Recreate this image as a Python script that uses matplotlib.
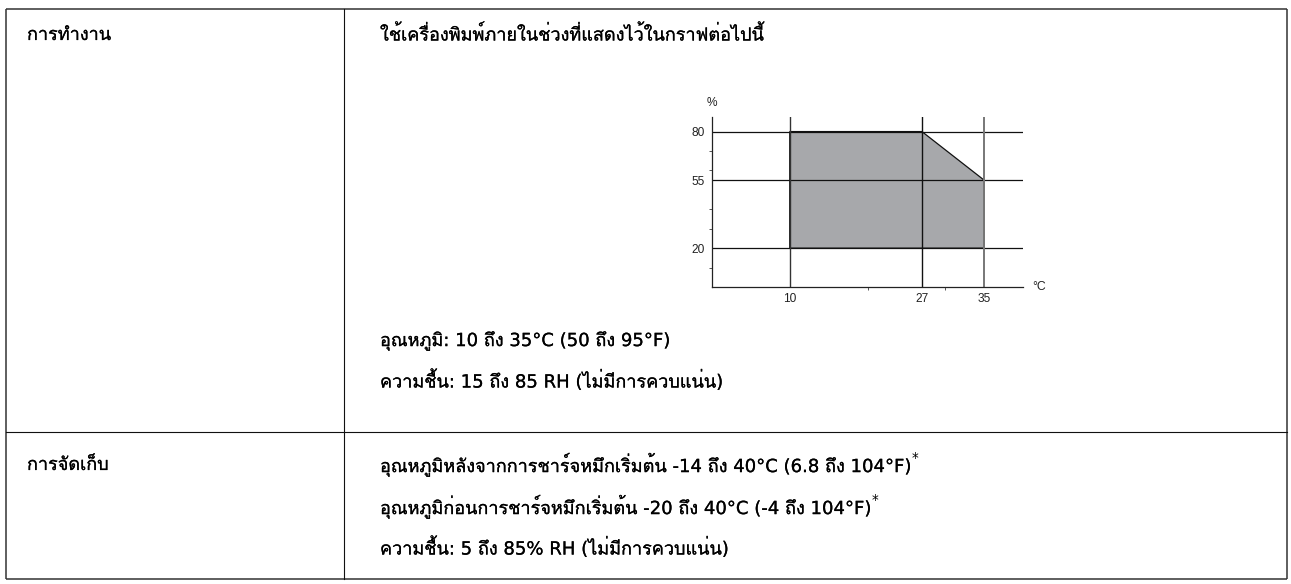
import matplotlib
matplotlib.use('Agg')
import matplotlib.pyplot as plt
import matplotlib.patheffects as pe
from matplotlib import font_manager
from matplotlib.ft2font import FT2Font
from matplotlib.patches import Polygon

# chart data
temp_labels = [10, 27, 35]
hum_labels = [20, 55, 80]
temp_minor = [20, 30]
hum_minor = [10, 30, 40, 60, 70]
zone_temp = [10, 10, 27, 35, 35]
zone_hum = [20, 80, 80, 55, 20]

# table text
row_names = ['การทำงาน', 'การจัดเก็บ']
op_lines = ['ใช้เครื่องพิมพ์ภายในช่วงที่แสดงไว้ในกราฟต่อไปนี้',
            'อุณหภูมิ: 10 ถึง 35°C (50 ถึง 95°F)',
            'ความชื้น: 15 ถึง 85 RH (ไม่มีการควบแน่น)']
store_lines = ['อุณหภูมิหลังจากการชาร์จหมึกเริ่มต้น -14 ถึง 40°C (6.8 ถึง 104°F)',
               'อุณหภูมิก่อนการชาร์จหมึกเริ่มต้น -20 ถึง 40°C (-4 ถึง 104°F)',
               'ความชื้น: 5 ถึง 85% RH (ไม่มีการควบแน่น)']
store_star = [True, True, False]


def find_thai_font():
    # pick an installed font that has Thai glyphs, Tahoma-like ones first
    found = []
    for f in font_manager.fontManager.ttflist:
        try:
            if 0x0E01 in FT2Font(f.fname).get_charmap():
                found.append(f.name)
        except Exception:
            pass
    for name in ['Tahoma', 'Waree', 'Loma', 'Garuda', 'Umpush',
                 'Noto Sans Thai Looped', 'Noto Sans Thai', 'Noto Sans Thai UI']:
        if name in found:
            return name
    found.sort(key=lambda n: ('Thai' not in n, 'Sans' not in n, 'Serif' in n))
    return found[0] if found else None


thai = find_thai_font()
families = ['DejaVu Sans'] + ([thai] if thai else [])
plt.rcParams['font.family'] = families

names = {f.name for f in font_manager.fontManager.ttflist}
tick_family = 'Liberation Sans Narrow' if 'Liberation Sans Narrow' in names else 'Liberation Sans'

W, H = 1291, 584
fig = plt.figure(figsize=(W / 100, H / 100), dpi=100)

# table drawn in pixel coordinates
bg = fig.add_axes([0, 0, 1, 1])
bg.set_xlim(0, W)
bg.set_ylim(H, 0)
bg.axis('off')

left, right, top, bottom = 6, 1287, 9, 579
col_x, row_y = 344, 432
line_kw = dict(color='#333333', lw=1.1, solid_capstyle='butt')
bg.plot([left, right], [top, top], **line_kw)
bg.plot([left, right], [bottom, bottom], **line_kw)
bg.plot([left, left], [top, bottom], **line_kw)
bg.plot([right, right], [top, bottom], **line_kw)
bg.plot([col_x, col_x], [top, bottom], color='#111111', lw=0.8)
bg.plot([left, right], [row_y, row_y], color='#111111', lw=0.8)

fs = 13.0
ink = '#000000'
heavier = [pe.withStroke(linewidth=0.15, foreground=ink)]
txt_kw = dict(fontsize=fs, va='center', ha='left', color=ink, path_effects=heavier)
bg.text(27, 35, row_names[0], **txt_kw)
bg.text(27, 465, row_names[1], **txt_kw)
for txt, y in zip(op_lines, [35, 341, 381]):
    bg.text(380, y, txt, **txt_kw)
store_texts = []
for txt, y in zip(store_lines, [465, 507, 548]):
    store_texts.append(bg.text(380, y, txt, **txt_kw))

# small chart
ax = fig.add_axes([712 / W, 1 - 287 / H, 311 / W, 170 / H])
ax.set_xlim(0, 40)
ax.set_ylim(0, 87.5)
ax.patch.set_alpha(0)
for s in ['top', 'right']:
    ax.spines[s].set_visible(False)
for s in ['left', 'bottom']:
    ax.spines[s].set_linewidth(0.9)
    ax.spines[s].set_color('#222222')

ax.add_patch(Polygon(list(zip(zone_temp, zone_hum)), closed=True,
                     facecolor='#a7a8ab', edgecolor='#111111', lw=0.9, zorder=1))
for h in hum_labels:
    ax.plot([0, 40], [h, h], color='#111111', lw=0.9, zorder=2)
grid_cols = ['#333333', '#111111', '#777777']
for t, c in zip(temp_labels, grid_cols):
    ax.plot([t, t], [0, 87.5], color=c, lw=1.0 if t != 35 else 1.4, zorder=2)

ax.set_xticks(temp_labels)
ax.set_yticks(hum_labels)
ax.set_xticks(temp_minor, minor=True)
ax.set_yticks(hum_minor, minor=True)
ax.tick_params(which='major', length=0, labelsize=8.6, colors='#222222')
ax.tick_params(axis='x', which='major', pad=4)
ax.tick_params(axis='y', which='major', pad=5)
ax.tick_params(which='minor', length=2.2, width=0.7, color='#555555', direction='out')
for lab in ax.get_xticklabels() + ax.get_yticklabels():
    lab.set_family(tick_family)

ax.text(0, 1.08, '%', transform=ax.transAxes, ha='center', va='center',
        fontsize=8.6, family=tick_family, color='#222222')
ax.text(1.03, 0, '°C', transform=ax.transAxes, ha='left', va='center',
        fontsize=8.8, family=tick_family, color='#222222')

# superscript asterisks placed after the measured storage lines
fig.canvas.draw()
renderer = fig.canvas.get_renderer()
inv = bg.transData.inverted()
for t, star in zip(store_texts, store_star):
    if not star:
        continue
    bb = t.get_window_extent(renderer)
    x_end, _ = inv.transform((bb.x1, bb.y1))
    bg.text(x_end + 1, t.get_position()[1] - 7, '*', fontsize=fs * 0.75,
            va='center', ha='left', color=ink)

fig.savefig('out.png', dpi=100, facecolor='white')
